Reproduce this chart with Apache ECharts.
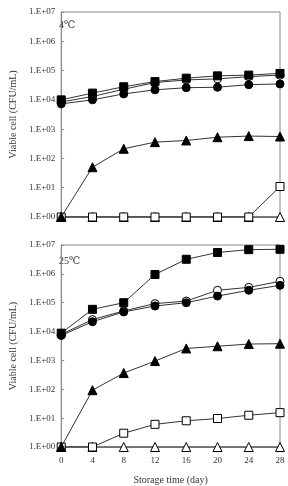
<!DOCTYPE html>
<html>
<head>
<meta charset="utf-8">
<script src="https://cdn.jsdelivr.net/npm/echarts@6/dist/echarts.min.js"></script>
<style>
  html, body { margin: 0; padding: 0; background: #fff; }
  #chart { width: 288px; height: 486px; }
</style>
</head>
<body>
<div id="chart"></div>
<script>
// storage days
var days = [0, 4, 8, 12, 16, 20, 24, 28];

// 4℃ panel
var t4FilledSquare   = [1.0e4, 1.7e4, 2.8e4, 4.2e4, 5.5e4, 6.6e4, 7.0e4, 8.0e4];
var t4OpenCircle     = [8.5e3, 1.3e4, 2.3e4, 3.9e4, 4.8e4, 5.2e4, 6.2e4, 7.0e4];
var t4FilledCircle   = [7.3e3, 1.0e4, 1.6e4, 2.2e4, 2.6e4, 2.7e4, 3.3e4, 3.5e4];
var t4FilledTriangle = [1, 50, 214, 360, 410, 530, 580, 560];
var t4OpenSquare     = [1, 1, 1, 1, 1, 1, 1, 11];
var t4OpenTriangle   = [1, 1, 1, 1, 1, 1, 1, 1];

// 25℃ panel
var t25FilledSquare   = [8.8e3, 5.9e4, 1.0e5, 9.5e5, 3.2e6, 5.5e6, 6.9e6, 7.1e6];
var t25OpenCircle     = [8.0e3, 2.6e4, 5.2e4, 9.3e4, 1.14e5, 2.7e5, 3.4e5, 5.5e5];
var t25FilledCircle   = [7.3e3, 2.2e4, 4.8e4, 7.7e4, 1.0e5, 1.7e5, 2.7e5, 4.0e5];
var t25FilledTriangle = [1, 93, 365, 950, 2.6e3, 3.1e3, 3.7e3, 3.8e3];
var t25OpenSquare     = [1, 1, 3.0, 6.1, 8.1, 9.7, 12.6, 15.5];
var t25OpenTriangle   = [1, 1, 1, 1, 1, 1, 1, 1];

var FONT = '"Liberation Serif", "DejaVu Serif", serif';
var TXT = '#333';

function pairs(vals) {
    return days.map(function (d, i) { return [d, vals[i]]; });
}

function tickLabel(v) {
    var e = Math.round(Math.log10(v));
    return '1.E+' + (e < 10 ? '0' + e : e);
}

function mk(name, vals, idx, symbol, filled, size) {
    return {
        name: name,
        type: 'line',
        xAxisIndex: idx,
        yAxisIndex: idx,
        data: pairs(vals),
        symbol: symbol,
        symbolSize: size,
        lineStyle: { color: '#333', width: 1 },
        itemStyle: {
            color: filled ? '#000' : '#fff',
            borderColor: '#000',
            borderWidth: 1
        },
        animation: false,
        z: filled ? 3 : 2
    };
}

function yAxis(idx) {
    return {
        type: 'log',
        gridIndex: idx,
        logBase: 10,
        min: 1,
        max: 1e7,
        name: 'Viable cell (CFU/mL)',
        nameLocation: 'middle',
        nameGap: 41,
        nameTextStyle: { fontFamily: FONT, fontSize: 10, color: TXT },
        axisLine: { show: true, lineStyle: { color: '#888' } },
        axisTick: { show: true, inside: true, length: 3, lineStyle: { color: '#888' } },
        axisLabel: { fontFamily: FONT, fontSize: 9, color: TXT, margin: 6, formatter: tickLabel },
        splitLine: { show: false },
        minorTick: { show: false }
    };
}

function xAxis(idx, showLabels) {
    return {
        type: 'value',
        gridIndex: idx,
        min: 0,
        max: 28,
        interval: 4,
        name: showLabels ? 'Storage time (day)' : '',
        nameLocation: 'middle',
        nameGap: 28,
        nameTextStyle: { fontFamily: FONT, fontSize: 10, color: TXT },
        axisLine: { show: true, lineStyle: { color: '#888' } },
        axisTick: { show: showLabels, inside: true, length: 3, lineStyle: { color: '#888' } },
        axisLabel: { show: showLabels, fontFamily: FONT, fontSize: 9, color: TXT, margin: 9 },
        splitLine: { show: false }
    };
}

var chart = echarts.init(document.getElementById('chart'));
chart.setOption({
    backgroundColor: '#fff',
    animation: false,
    grid: [
        { left: 50, right: 8, top: 12, height: 205, show: true, borderColor: '#888', borderWidth: 1 },
        { left: 50, right: 8, top: 245, height: 204, show: true, borderColor: '#888', borderWidth: 1 }
    ],
    xAxis: [xAxis(0, false), xAxis(1, true)],
    yAxis: [yAxis(0), yAxis(1)],
    graphic: [
        { type: 'text', left: 59, top: 20, style: { text: '4℃', font: '10px ' + FONT, fill: TXT } },
        { type: 'text', left: 59, top: 256, style: { text: '25℃', font: '10px ' + FONT, fill: TXT } }
    ],
    series: [
        mk('open triangle 4', t4OpenTriangle, 0, 'triangle', false, 9),
        mk('open square 4', t4OpenSquare, 0, 'rect', false, 8),
        mk('filled triangle 4', t4FilledTriangle, 0, 'triangle', true, 9),
        mk('filled circle 4', t4FilledCircle, 0, 'circle', true, 8),
        mk('open circle 4', t4OpenCircle, 0, 'circle', false, 8),
        mk('filled square 4', t4FilledSquare, 0, 'rect', true, 8),

        mk('open triangle 25', t25OpenTriangle, 1, 'triangle', false, 9),
        mk('open square 25', t25OpenSquare, 1, 'rect', false, 8),
        mk('filled triangle 25', t25FilledTriangle, 1, 'triangle', true, 9),
        mk('filled circle 25', t25FilledCircle, 1, 'circle', true, 8),
        mk('open circle 25', t25OpenCircle, 1, 'circle', false, 8),
        mk('filled square 25', t25FilledSquare, 1, 'rect', true, 8)
    ]
});
window.addEventListener('resize', function () {
    chart.resize();
});
</script>
</body>
</html>
